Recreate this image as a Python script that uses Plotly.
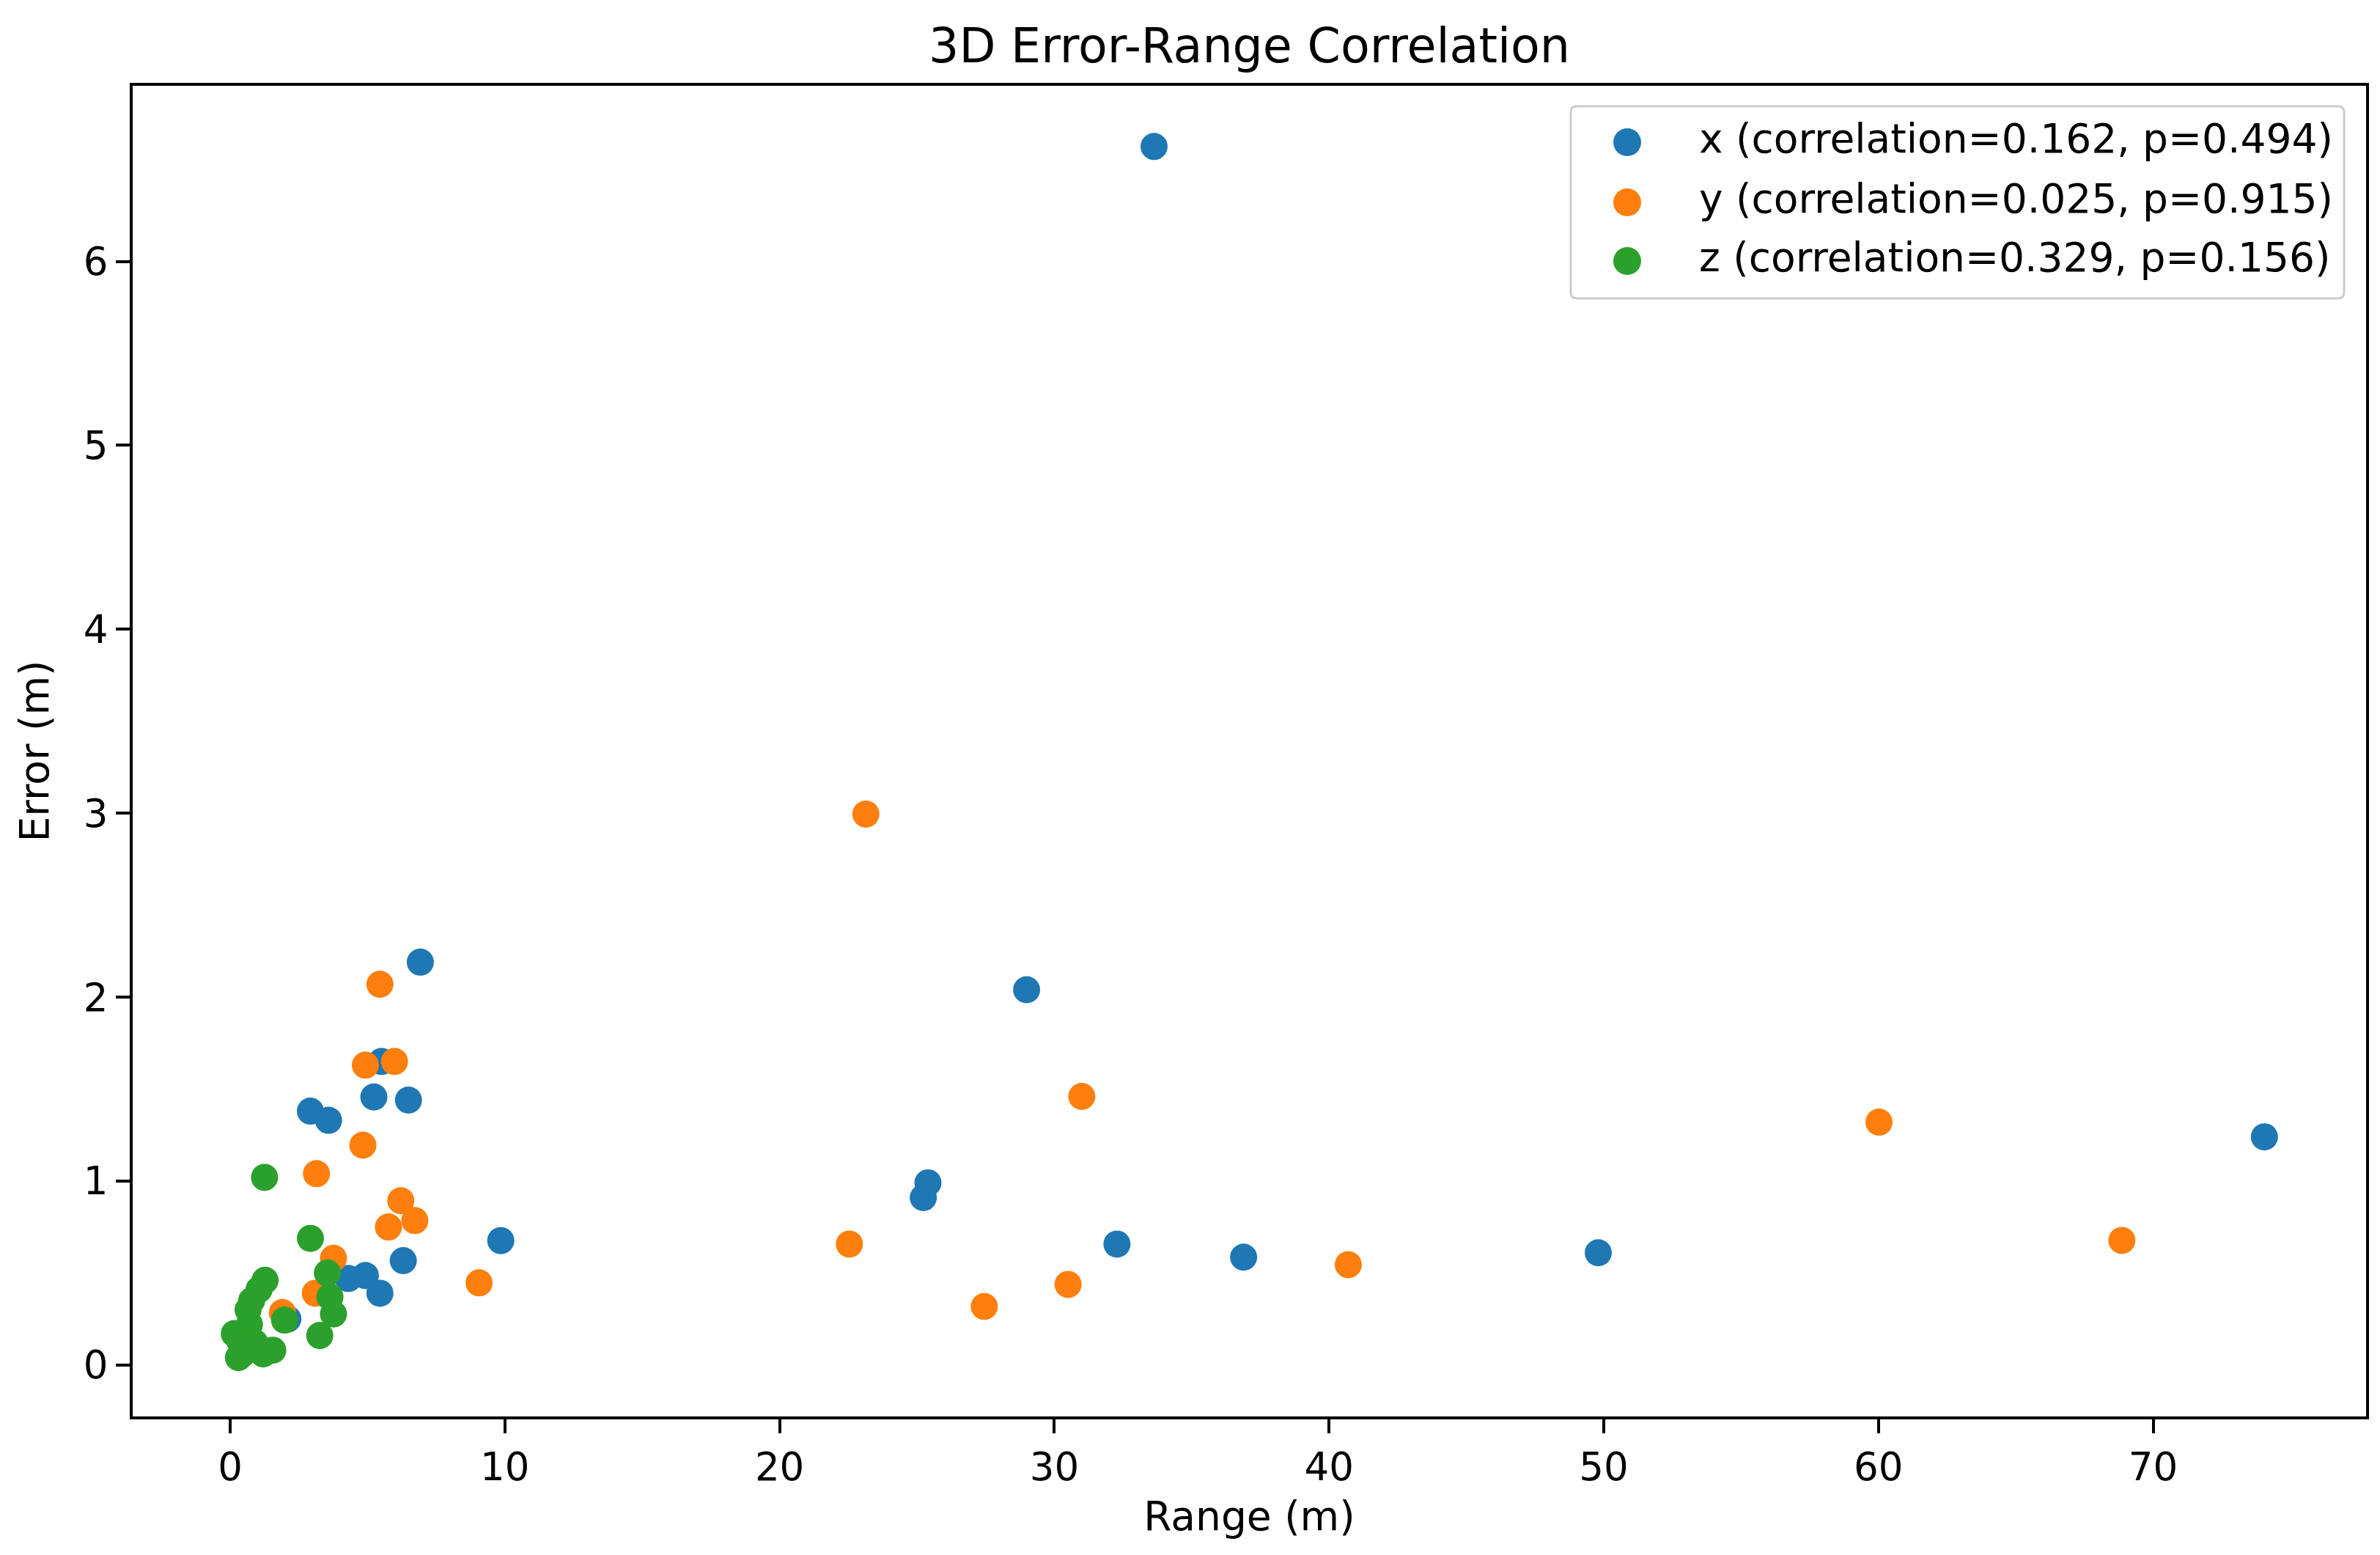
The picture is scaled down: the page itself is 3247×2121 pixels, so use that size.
import plotly.graph_objects as go

# Data
x_range = [33.63, 28.99, 6.92, 5.51, 5.23, 6.49, 2.92, 3.58, 9.85, 6.30,
           4.92, 4.30, 5.45, 25.40, 25.23, 32.28, 36.89, 49.80, 74.05, 2.10]
x_error = [6.625, 2.04, 2.19, 1.65, 1.457, 1.44, 1.38, 1.33, 0.676, 0.567,
           0.486, 0.47, 0.39, 0.99, 0.91, 0.657, 0.586, 0.61, 1.24, 0.25]

y_range = [23.14, 31.0, 60.02, 68.86, 40.7, 30.5, 27.45, 22.54, 9.06,
           5.45, 4.92, 5.98, 4.83, 3.14, 6.21, 5.76, 6.72, 3.76, 3.10, 1.90]
y_error = [2.995, 1.46, 1.32, 0.677, 0.545, 0.438, 0.318, 0.657, 0.446,
           2.07, 1.63, 1.65, 1.195, 1.04, 0.893, 0.75, 0.785, 0.58, 0.39, 0.285]

z_range = [1.25, 2.92, 3.54, 3.63, 3.76, 3.26, 1.98,
           1.27, 1.05, 0.78, 0.65, 0.70, 0.15, 0.35, 0.45, 0.30, 0.90, 1.20, 1.55, 0.60]
z_error = [1.02, 0.688, 0.50, 0.37, 0.277, 0.16, 0.244,
           0.46, 0.41, 0.35, 0.30, 0.22, 0.17, 0.13, 0.06, 0.04, 0.12, 0.06, 0.08, 0.10]

series_names = ["x (correlation=0.162, p=0.494)",
                "y (correlation=0.025, p=0.915)",
                "z (correlation=0.329, p=0.156)"]
series_colors = ["#1f77b4", "#ff7f0e", "#2ca02c"]

x_ticks = [0, 10, 20, 30, 40, 50, 60, 70]
y_ticks = [0, 1, 2, 3, 4, 5, 6]

FONT = "DejaVu Sans, Liberation Sans, sans-serif"

W, H = 3247, 2121
ML, MR, MT, MB = 173, 27, 109, 197
PW, PH = W - ML - MR, H - MT - MB


def px2paper_x(px):
    return (px - ML) / PW


def px2paper_y(py):
    return (H - MB - py) / PH


fig = go.Figure()
for xs, ys, name, color in zip([x_range, y_range, z_range],
                               [x_error, y_error, z_error],
                               series_names, series_colors):
    fig.add_trace(go.Scatter(
        x=xs, y=ys, mode="markers", name=name, showlegend=False,
        marker=dict(size=37, color=color, line=dict(width=0)),
    ))

axis_common = dict(
    showgrid=False, zeroline=False,
    showline=True, linecolor="black", linewidth=4, mirror=True,
    ticks="outside", ticklen=19, tickwidth=4, tickcolor="black",
    tickfont=dict(family=FONT, size=53, color="black"),
)

# Legend (drawn as a matplotlib-style box with large markers)
bx0, bx1 = px2paper_x(2135), px2paper_x(3190)
by0, by1 = px2paper_y(399), px2paper_y(137)
rx, ry = 8 / PW, 8 / PH
legend_path = (
    f"M {bx0 + rx},{by1} L {bx1 - rx},{by1} Q {bx1},{by1} {bx1},{by1 - ry} "
    f"L {bx1},{by0 + ry} Q {bx1},{by0} {bx1 - rx},{by0} "
    f"L {bx0 + rx},{by0} Q {bx0},{by0} {bx0},{by0 + ry} "
    f"L {bx0},{by1 - ry} Q {bx0},{by1} {bx0 + rx},{by1} Z"
)
shapes = [dict(type="path", xref="paper", yref="paper", path=legend_path,
               line=dict(color="#cccccc", width=3),
               fillcolor="rgba(255,255,255,0.8)", layer="above")]
annotations = []
row_y = [186, 268, 348]
mx = px2paper_x(2212)
mr_x, mr_y = 19 / PW, 19 / PH
for name, color, ry_px in zip(series_names, series_colors, row_y):
    my = px2paper_y(ry_px)
    shapes.append(dict(type="circle", xref="paper", yref="paper",
                       x0=mx - mr_x, x1=mx + mr_x, y0=my - mr_y, y1=my + mr_y,
                       fillcolor=color, line=dict(width=0), layer="above"))
    annotations.append(dict(text=name, xref="paper", yref="paper",
                            x=px2paper_x(2308), y=px2paper_y(ry_px - 5),
                            xanchor="left", yanchor="middle",
                            showarrow=False,
                            font=dict(family=FONT, size=55, color="black")))

fig.update_layout(
    width=W, height=H,
    paper_bgcolor="white", plot_bgcolor="white",
    margin=dict(l=ML, r=MR, t=MT, b=MB),
    font=dict(family=FONT, color="black"),
    title=dict(text="3D Error-Range Correlation",
               x=0.5, xref="paper", xanchor="center",
               y=1 - 54 / H, yref="container", yanchor="middle",
               font=dict(family=FONT, size=65, color="black")),
    xaxis=dict(range=[-3.55, 77.75], tickvals=x_ticks,
               title=dict(text="Range (m)", font=dict(family=FONT, size=55), standoff=20),
               **axis_common),
    yaxis=dict(range=[-0.28, 6.955], tickvals=y_ticks,
               title=dict(text="Error (m)", font=dict(family=FONT, size=55), standoff=30),
               **axis_common),
    shapes=shapes,
    annotations=annotations,
    showlegend=False,
)

fig.write_html("out.html")
